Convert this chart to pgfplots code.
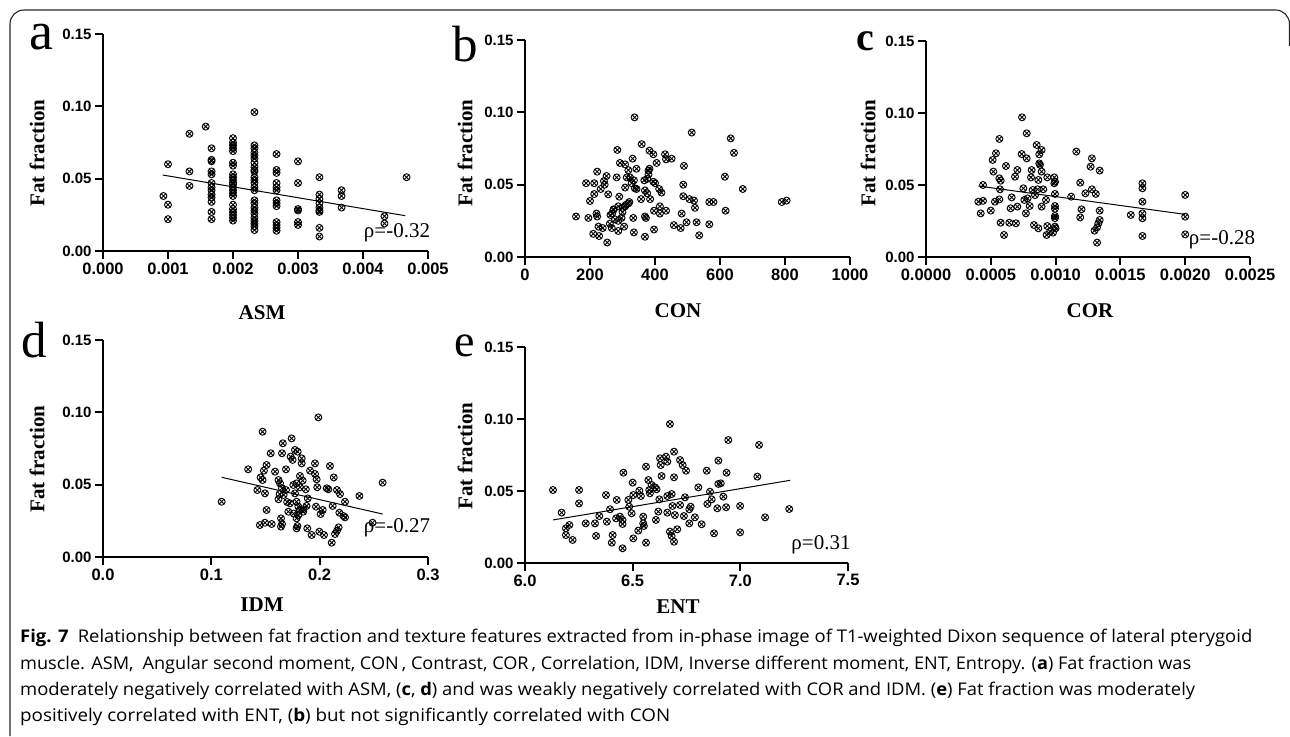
\documentclass[border=0pt]{standalone}
\usepackage{pgfplots}
\pgfplotsset{compat=1.18}
\usepackage{fontspec}
\usepackage{graphicx}
\setmainfont{Liberation Serif}
\newfontfamily\arialfont{Liberation Sans}
\newfontfamily\capfont{Open Sans}

\pgfplotsset{
  ffplot/.style={
    scale only axis, anchor=south west,
    axis lines=left, axis line style={-, line width=2pt},
    enlargelimits=false, clip=false,
    scaled x ticks=false, scaled y ticks=false,
    ymin=0, ymax=0.15, ytick={0,0.05,0.10,0.15}, yticklabels={0.00,0.05,0.10,0.15},
    tick align=outside, major tick length=8pt,
    tick style={line width=2pt, black},
    xticklabel style={font=\arialfont\bfseries\fontsize{16.5}{16.5}\selectfont},
    yticklabel style={font=\arialfont\bfseries\fontsize{15}{15}\selectfont},
  },
  pts/.style={only marks, mark=otimes, mark size=3.5pt, black, mark options={line width=0.9pt}},
  fitl/.style={no marks, black, line width=1pt},
}
\newcommand{\axl}[1]{\fontsize{21}{21}\selectfont\bfseries #1}
\newcommand{\rholab}[1]{\fontsize{21}{21}\selectfont #1}

\begin{document}
\begin{tikzpicture}[x=1pt,y=1pt]
\useasboundingbox (0,0) rectangle (1290,736);
\draw[line width=1.1pt, rounded corners=14pt, black!85] (10,0) -- (10,726) -- (1289.5,726) -- (1289.5,690);

% ---------- a ----------
\begin{axis}[ffplot, at={(103pt,485pt)}, width=325pt, height=217pt,
  xmin=0, xmax=0.005, xtick={0,0.001,0.002,0.003,0.004,0.005},
  xticklabels={0.000,0.001,0.002,0.003,0.004,0.005}]
\addplot[pts] table {
0.00100 0.060
0.00093 0.038
0.00100 0.032
0.00100 0.022
0.00133 0.081
0.00133 0.055
0.00133 0.045
0.00158 0.086
0.00167 0.071
0.00167 0.063
0.00167 0.062
0.00167 0.055
0.00167 0.053
0.00167 0.047
0.00167 0.044
0.00167 0.042
0.00167 0.039
0.00167 0.037
0.00167 0.034
0.00167 0.027
0.00167 0.022
0.00200 0.078
0.00200 0.075
0.00200 0.073
0.00200 0.071
0.00200 0.069
0.00200 0.061
0.00200 0.059
0.00200 0.053
0.00200 0.051
0.00200 0.049
0.00200 0.047
0.00200 0.046
0.00200 0.044
0.00200 0.042
0.00200 0.040
0.00200 0.038
0.00200 0.032
0.00200 0.029
0.00200 0.027
0.00200 0.025
0.00200 0.023
0.00200 0.021
0.00233 0.096
0.00233 0.073
0.00233 0.071
0.00233 0.068
0.00233 0.066
0.00233 0.064
0.00233 0.061
0.00233 0.058
0.00233 0.056
0.00233 0.055
0.00233 0.051
0.00233 0.049
0.00233 0.047
0.00233 0.044
0.00233 0.042
0.00233 0.035
0.00233 0.033
0.00233 0.030
0.00233 0.028
0.00233 0.026
0.00233 0.023
0.00233 0.021
0.00233 0.019
0.00233 0.017
0.00233 0.0145
0.00267 0.067
0.00267 0.056
0.00267 0.054
0.00267 0.047
0.00267 0.044
0.00267 0.042
0.00267 0.035
0.00267 0.033
0.00267 0.031
0.00267 0.020
0.00267 0.018
0.00267 0.016
0.00267 0.014
0.00300 0.062
0.00300 0.047
0.00300 0.029
0.00300 0.028
0.00300 0.020
0.00300 0.018
0.00333 0.051
0.00333 0.039
0.00333 0.036
0.00333 0.033
0.00333 0.030
0.00333 0.028
0.00333 0.027
0.00333 0.016
0.00333 0.010
0.00367 0.042
0.00367 0.038
0.00367 0.030
0.00433 0.024
0.00433 0.019
0.00467 0.051
};
\addplot[fitl] coordinates {(0.00092,0.0525) (0.00465,0.0244)};
\end{axis}

% ---------- b ----------
\begin{axis}[ffplot, at={(525pt,479pt)}, width=325pt, height=217pt,
  xmin=0, xmax=1000, xtick={0,200,400,600,800,1000},
  xticklabels={0,200,400,600,800,1000}]
\addplot[pts] table {
157 0.028
195 0.027
188 0.051
213 0.051
222 0.059
251 0.056
243 0.0525
233 0.047
213 0.0435
256 0.0433
200 0.0387
220 0.030
222 0.028
210 0.016
226 0.021
228 0.0145
239 0.020
253 0.010
263 0.029
261 0.023
272 0.0325
277 0.026
287 0.035
290 0.0417
284 0.074
282 0.055
292 0.065
308 0.064
318 0.060
323 0.055
331 0.068
343 0.061
337 0.0965
359 0.078
383 0.0735
395 0.071
405 0.065
335 0.053
338 0.0475
343 0.047
308 0.048
321 0.038
308 0.035
300 0.034
297 0.027
287 0.025
287 0.018
267 0.020
305 0.021
333 0.027
335 0.017
357 0.040
369 0.046
367 0.053
380 0.0597
383 0.061
380 0.057
376 0.054
376 0.044
385 0.040
369 0.028
372 0.027
369 0.014
395 0.052
400 0.051
413 0.047
420 0.0445
397 0.032
415 0.035
415 0.030
434 0.032
397 0.019
431 0.071
434 0.0675
451 0.068
489 0.063
487 0.050
487 0.042
506 0.040
520 0.039
523 0.034
482 0.030
458 0.022
479 0.020
497 0.024
528 0.024
536 0.015
567 0.0226
567 0.038
580 0.038
513 0.086
633 0.082
643 0.072
615 0.0555
670 0.047
617 0.032
790 0.038
805 0.039
313 0.055
328 0.051
245 0.050
300 0.031
310 0.036
318 0.037
268 0.030
273 0.033
};
\end{axis}

% ---------- c ----------
\begin{axis}[ffplot, at={(926pt,479pt)}, width=324pt, height=216pt,
  xmin=0, xmax=0.0025, xtick={0,0.0005,0.001,0.0015,0.002,0.0025},
  xticklabels={0.0000,0.0005,0.0010,0.0015,0.0020,0.0025}]
\addplot[pts] table {
0.000741 0.097
0.000777 0.0859
0.000566 0.082
0.000540 0.072
0.000514 0.0674
0.000520 0.0593
0.000566 0.0546
0.000576 0.053
0.000571 0.047
0.000440 0.050
0.000404 0.0384
0.000440 0.039
0.000422 0.0303
0.000500 0.0322
0.000532 0.0384
0.000566 0.040
0.000576 0.0238
0.000602 0.0153
0.000617 0.0632
0.000643 0.0238
0.000661 0.0414
0.000653 0.0338
0.000705 0.035
0.000694 0.0234
0.000687 0.0558
0.000705 0.0604
0.000738 0.0715
0.000777 0.0685
0.000751 0.0477
0.000759 0.0396
0.000771 0.0303
0.000784 0.0407
0.000800 0.0354
0.000815 0.0604
0.000810 0.0553
0.000823 0.0465
0.000833 0.0222
0.000867 0.0199
0.000854 0.0778
0.000892 0.0743
0.000874 0.0713
0.000874 0.065
0.000879 0.064
0.000892 0.0593
0.000867 0.0535
0.000861 0.047
0.000841 0.043
0.000892 0.035
0.000936 0.0553
0.000905 0.047
0.000926 0.0396
0.000936 0.0215
0.000931 0.0153
0.000957 0.0176
0.000990 0.0553
0.000995 0.0523
0.000995 0.0438
0.000995 0.0354
0.000995 0.0335
0.000995 0.0285
0.000995 0.027
0.000995 0.0211
0.001000 0.0199
0.000980 0.0169
0.000990 0.0512
0.00112 0.0419
0.00116 0.0732
0.00119 0.0516
0.00120 0.0331
0.00119 0.0275
0.00123 0.0442
0.00127 0.0627
0.00128 0.0685
0.00128 0.047
0.00131 0.0438
0.00134 0.060
0.00134 0.0322
0.00134 0.0257
0.00133 0.0234
0.00132 0.0206
0.00130 0.0183
0.00132 0.010
0.00158 0.0292
0.00167 0.0512
0.00167 0.0477
0.00167 0.0384
0.00167 0.0303
0.00167 0.0269
0.00167 0.0146
0.00200 0.0431
0.00200 0.028
0.00200 0.0157
};
\addplot[fitl] coordinates {(0.000404,0.0493) (0.002,0.0296)};
\end{axis}

% ---------- d ----------
\begin{axis}[ffplot, at={(103pt,179pt)}, width=325pt, height=217pt,
  xmin=0, xmax=0.3, xtick={0,0.1,0.2,0.3},
  xticklabels={0.0,0.1,0.2,0.3}]
\addplot[pts] table {
0.1095 0.0382
0.134 0.0606
0.1425 0.0463
0.1495 0.044
0.1473 0.0866
0.151 0.0636
0.1485 0.0597
0.1455 0.055
0.1473 0.0532
0.1548 0.0717
0.1588 0.059
0.151 0.0325
0.1448 0.0221
0.1495 0.0237
0.1557 0.0228
0.162 0.0532
0.1634 0.0509
0.162 0.0399
0.166 0.0786
0.1652 0.0717
0.1689 0.0606
0.1652 0.0475
0.1667 0.0429
0.163 0.0435
0.1643 0.0267
0.1652 0.0228
0.1643 0.021
0.1689 0.0463
0.1711 0.0313
0.1726 0.0371
0.1741 0.082
0.1732 0.0694
0.175 0.0671
0.1772 0.074
0.1797 0.0728
0.1757 0.0498
0.1787 0.0509
0.1772 0.044
0.1787 0.0382
0.1803 0.0348
0.1818 0.0325
0.1803 0.029
0.1787 0.0267
0.1794 0.0214
0.1787 0.0198
0.1834 0.0682
0.1834 0.0647
0.1818 0.056
0.1843 0.0528
0.1818 0.0482
0.1872 0.0468
0.1879 0.0353
0.1848 0.0313
0.1886 0.0198
0.1911 0.0597
0.1926 0.0152
0.1957 0.0647
0.1957 0.0574
0.1972 0.0537
0.1978 0.0482
0.1966 0.0348
0.1988 0.0965
0.1997 0.0175
0.2009 0.0297
0.2028 0.0325
0.204 0.0152
0.2065 0.0475
0.2080 0.0468
0.2095 0.0629
0.212 0.0353
0.213 0.055
0.216 0.0463
0.2188 0.0435
0.2182 0.0306
0.222 0.0283
0.2234 0.0274
0.2234 0.0382
0.2175 0.0205
0.216 0.0182
0.2142 0.0159
0.2111 0.0099
0.2367 0.0422
0.2488 0.0237
0.2581 0.0514
0.189 0.0405
0.185 0.033
0.176 0.030
0.170 0.038
};
\addplot[fitl] coordinates {(0.1095,0.0551) (0.2581,0.0297)};
\end{axis}

% ---------- e ----------
\begin{axis}[ffplot, at={(525pt,173pt)}, width=323pt, height=216pt,
  xmin=6, xmax=7.5, xtick={6,6.5,7,7.5},
  xticklabels={6.0,6.5,7.0,7.5}]
\addplot[pts] table {
6.130 0.0507
6.170 0.035
6.190 0.0241
6.206 0.0264
6.190 0.0194
6.221 0.016
6.251 0.0507
6.251 0.0414
6.282 0.0275
6.325 0.0275
6.330 0.0188
6.345 0.0326
6.376 0.0472
6.380 0.0287
6.395 0.0373
6.407 0.0194
6.403 0.0141
6.426 0.0438
6.423 0.031
6.457 0.0627
6.441 0.0322
6.453 0.0299
6.453 0.0271
6.453 0.0102
6.480 0.0438
6.484 0.0391
6.495 0.0345
6.500 0.0558
6.503 0.0472
6.503 0.0171
6.526 0.0225
6.531 0.0502
6.538 0.0465
6.549 0.0322
6.549 0.0275
6.552 0.0257
6.562 0.0669
6.562 0.0141
6.573 0.0576
6.577 0.0507
6.580 0.0484
6.588 0.0542
6.604 0.0525
6.611 0.0512
6.608 0.0299
6.619 0.0357
6.627 0.0727
6.630 0.068
6.655 0.0738
6.661 0.0704
6.634 0.0604
6.624 0.0442
6.661 0.0465
6.673 0.0965
6.692 0.0773
6.692 0.0595
6.661 0.035
6.681 0.0479
6.685 0.0396
6.696 0.0333
6.673 0.0218
6.681 0.0188
6.692 0.0148
6.707 0.0234
6.720 0.0715
6.732 0.068
6.748 0.0641
6.720 0.0403
6.738 0.0326
6.743 0.0456
6.763 0.0373
6.769 0.0391
6.763 0.0275
6.789 0.0317
6.805 0.0525
6.820 0.0269
6.844 0.0641
6.847 0.041
6.859 0.0495
6.867 0.0442
6.898 0.0711
6.898 0.0549
6.909 0.0553
6.893 0.038
6.878 0.0206
6.921 0.0461
6.936 0.0627
6.934 0.0387
6.944 0.0854
6.999 0.0396
6.999 0.0213
7.079 0.060
7.087 0.082
7.115 0.0317
7.227 0.0375
};
\addplot[fitl] coordinates {(6.13,0.0299) (7.231,0.0574)};
\end{axis}

% ---------- labels ----------
\foreach \x/\y in {37/583, 465/583, 868/583, 37/277, 465/280}
  \node[rotate=90] at (\x,\y) {\axl{Fat fraction}};
\node at (262,423) {\axl{ASM}};
\node at (678,425) {\axl{CON}};
\node at (1090,425) {\axl{COR}};
\node at (262,131) {\axl{IDM}};
\node at (678,129) {\axl{ENT}};

\node at (397,503) {\rholab{ρ=-0.32}};
\node at (1222,496) {\rholab{ρ=-0.28}};
\node at (397,208) {\rholab{ρ=-0.27}};
\node at (821,191) {\rholab{ρ=0.31}};

\node[anchor=base west, inner sep=0pt] at (29,686) {\fontsize{54}{54}\selectfont a};
\node[anchor=base west, inner sep=0pt] at (452,674) {\fontsize{51}{51}\selectfont b};
\node[anchor=base west, inner sep=0pt] at (856,685) {\fontsize{40}{40}\selectfont\bfseries c};
\node[anchor=base west, inner sep=0pt] at (21,378) {\fontsize{51}{51}\selectfont d};
\node[anchor=base west, inner sep=0pt] at (454,379) {\fontsize{46}{46}\selectfont e};

% ---------- caption ----------
\begin{scope}[every node/.style={anchor=base west, inner sep=0pt, font=\capfont\fontsize{17.5}{17.5}\selectfont}]
\node at (20,93) {\resizebox{1232pt}{\height}{\textbf{Fig. 7}\enspace Relationship between fat fraction and texture features extracted from in-phase image of T1-weighted Dixon sequence of lateral pterygoid}};
\node at (20,66) {\resizebox{1171pt}{\height}{muscle. ASM,\enspace Angular second moment, CON\,, Contrast, COR\,, Correlation, IDM, Inverse different moment, ENT, Entropy. (\textbf{a}) Fat fraction was}};
\node at (20,40) {\resizebox{1175pt}{\height}{moderately negatively correlated with ASM, (\textbf{c}, \textbf{d}) and was weakly negatively correlated with COR and IDM. (\textbf{e}) Fat fraction was moderately}};
\node at (20,14) {\resizebox{650pt}{\height}{positively correlated with ENT, (\textbf{b}) but not significantly correlated with CON}};
\end{scope}
\end{tikzpicture}
\end{document}
